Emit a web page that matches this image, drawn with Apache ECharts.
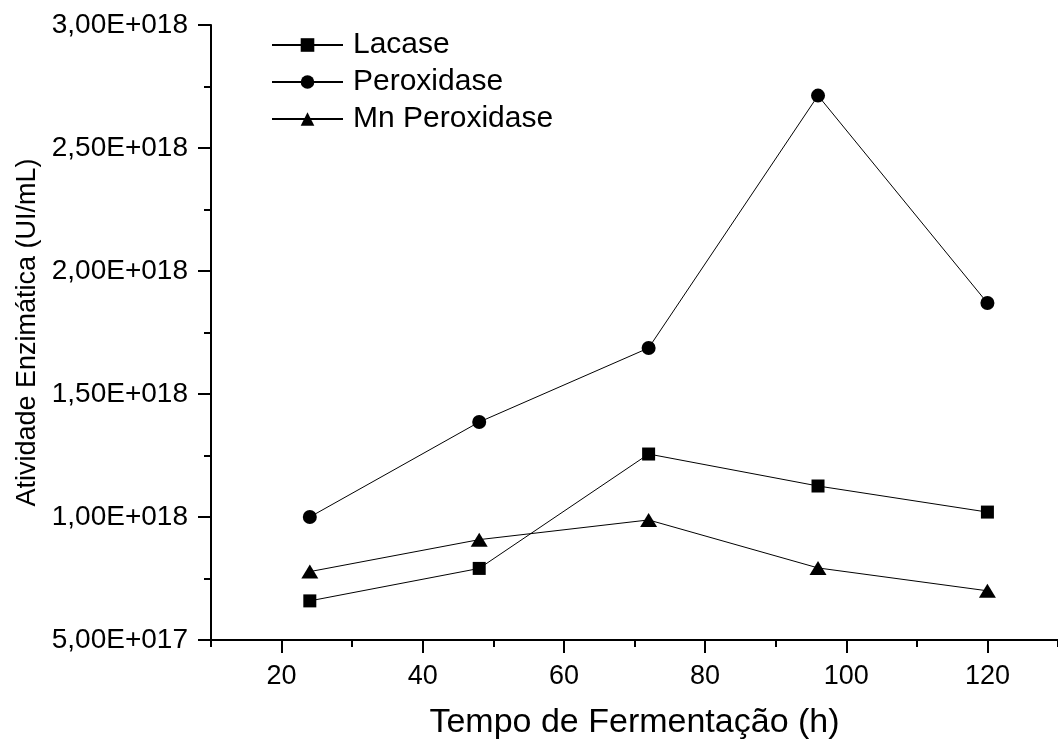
<!DOCTYPE html>
<html>
<head>
<meta charset="utf-8">
<script src="https://cdn.jsdelivr.net/npm/echarts@6/dist/echarts.min.js"></script>
<style>
html,body{margin:0;padding:0;background:#fff;}
#chart{width:1058px;height:742px;}
</style>
</head>
<body>
<div id="chart"></div>
<script>
const hours = [24, 48, 72, 96, 120];
const lacase = [6.59e17, 7.91e17, 1.256e18, 1.126e18, 1.02e18];
const peroxidase = [1.0e18, 1.386e18, 1.687e18, 2.713e18, 1.87e18];
const mnPeroxidase = [7.78e17, 9.08e17, 9.88e17, 7.93e17, 7.0e17];
const seriesNames = ['Lacase', 'Peroxidase', 'Mn Peroxidase'];
const xTickLabels = [20, 40, 60, 80, 100, 120];
const xTitle = 'Tempo de Fermentação (h)';
const yTitle = 'Atividade Enzimática (UI/mL)';

const FONT = '"Liberation Sans", Arial, Helvetica, sans-serif';

function sci(v) {
  if (v === 0) return '0,00E+000';
  const e = Math.floor(Math.log10(v) + 1e-9);
  const m = v / Math.pow(10, e);
  return m.toFixed(2).replace('.', ',') + 'E+' + String(e).padStart(3, '0');
}

function pairs(ys) { return hours.map((h, i) => [h, ys[i]]); }

const chart = echarts.init(document.getElementById('chart'), null, {renderer: 'canvas'});
const black = '#000';
const seriesCommon = {
  type: 'line',
  xAxisIndex: 0,
  lineStyle: {color: black, width: 1},
  itemStyle: {color: black},
  animation: false
};

chart.setOption({
  animation: false,
  backgroundColor: '#fff',
  textStyle: {fontFamily: FONT},
  grid: {left: 211, right: 0, top: 25, bottom: 102, containLabel: false, outerBoundsMode: 'none'},
  legend: {
    orient: 'vertical',
    left: 271,
    top: 30,
    padding: 0,
    itemWidth: 71,
    itemHeight: 17,
    itemGap: 7,
    data: seriesNames,
    textStyle: {fontFamily: FONT, fontSize: 30, color: black, padding: [0, 0, 0, 5], lineHeight: 30},
    inactiveColor: black
  },
  xAxis: [
    {
      type: 'value', min: 10, max: 130, interval: 10,
      position: 'bottom',
      axisLine: {show: true, lineStyle: {color: black, width: 2}},
      axisTick: {show: true, inside: false, length: 7, lineStyle: {color: black, width: 2}},
      axisLabel: {show: false},
      splitLine: {show: false},
      name: xTitle,
      nameLocation: 'middle',
      nameGap: 66,
      nameTextStyle: {fontFamily: FONT, fontSize: 34, color: black}
    },
    {
      type: 'value', min: 10, max: 130, interval: 10,
      position: 'bottom',
      axisLine: {show: false},
      axisTick: {show: true, inside: false, length: 13, customValues: xTickLabels, lineStyle: {color: black, width: 2}},
      axisLabel: {show: true, customValues: xTickLabels, margin: 23, fontFamily: FONT, fontSize: 27, color: black},
      splitLine: {show: false}
    }
  ],
  yAxis: {
    type: 'value', min: 5e17, max: 3e18, interval: 5e17,
    axisLine: {show: true, lineStyle: {color: black, width: 2}},
    axisTick: {show: true, inside: false, length: 13, lineStyle: {color: black, width: 2}},
    minorTick: {show: true, splitNumber: 2, length: 7, lineStyle: {color: black, width: 2}},
    axisLabel: {margin: 23, fontFamily: FONT, fontSize: 28, color: black, formatter: sci},
    splitLine: {show: false},
    name: yTitle,
    nameLocation: 'middle',
    nameGap: 168,
    nameTextStyle: {fontFamily: FONT, fontSize: 27, color: black}
  },
  series: [
    Object.assign({}, seriesCommon, {name: seriesNames[0], symbol: 'rect', symbolSize: 13, data: pairs(lacase)}),
    Object.assign({}, seriesCommon, {name: seriesNames[1], symbol: 'circle', symbolSize: 14, data: pairs(peroxidase)}),
    Object.assign({}, seriesCommon, {name: seriesNames[2], symbol: 'triangle', symbolSize: [17, 14], data: pairs(mnPeroxidase)})
  ]
});
</script>
</body>
</html>
